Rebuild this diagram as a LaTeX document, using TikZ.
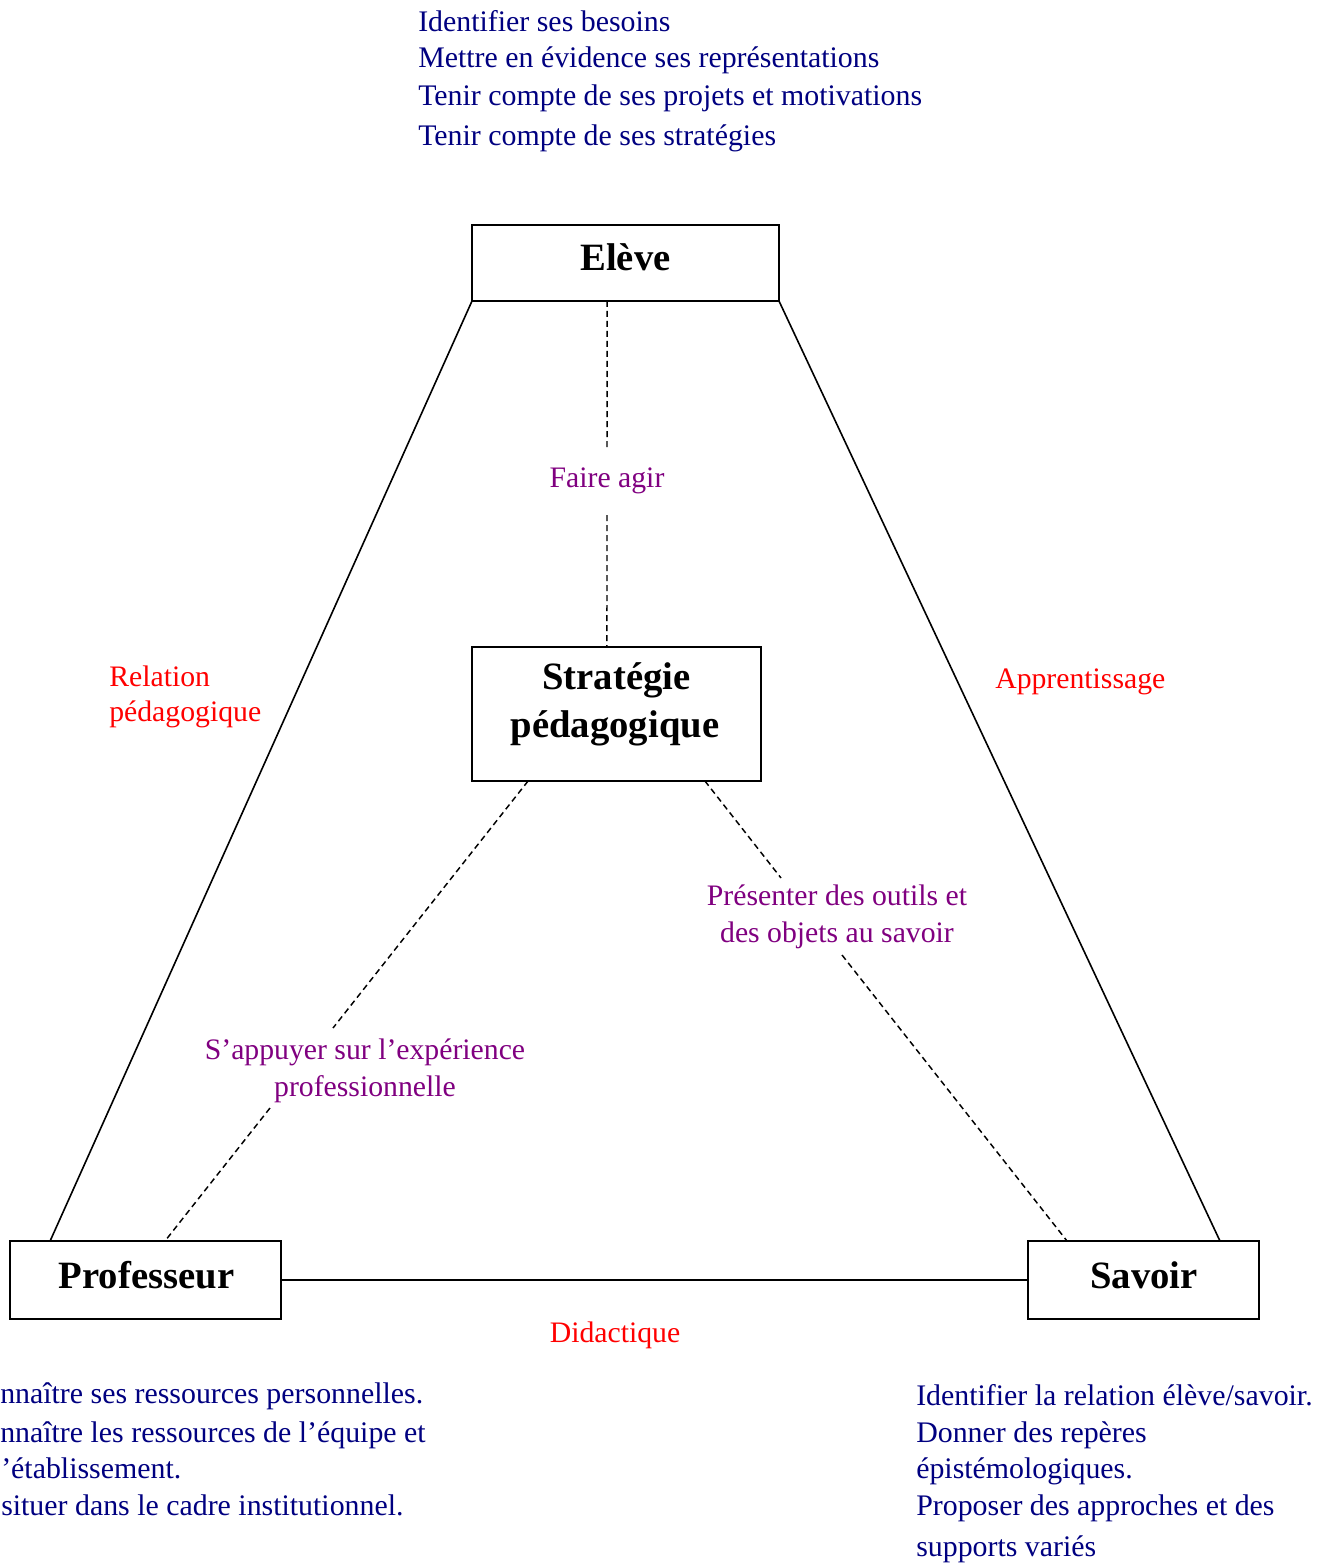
\documentclass[tikz,border=0pt]{standalone}
\usepackage{fontspec}
\setmainfont{Liberation Serif}
\usetikzlibrary{calc}
\definecolor{navytxt}{RGB}{0,0,128}
\definecolor{purpletxt}{RGB}{128,0,128}
\definecolor{redtxt}{RGB}{255,0,0}
\begin{document}
\begin{tikzpicture}[x=0.75pt,y=-0.75pt,
  box/.style={draw,line width=1.5pt,inner sep=0pt,outer sep=0pt},
  boxtext/.style={anchor=base,inner sep=0pt,font=\fontsize{29}{36}\selectfont\bfseries},
  navyline/.style={anchor=base west,inner sep=0pt,text=navytxt,font=\fontsize{22.4}{28}\selectfont},
  purplelabel/.style={anchor=base,inner sep=0pt,text=purpletxt,font=\fontsize{22.3}{28}\selectfont},
  redlabel/.style={inner sep=0pt,text=redtxt,font=\fontsize{22.3}{28}\selectfont},
  side/.style={line width=1.2pt},
  dashline/.style={line width=1.1pt,dash pattern=on 4.5pt off 3pt}
]
\useasboundingbox (0,0) rectangle (1323,1565);

% boxes
\node[box,minimum width=230.25pt,minimum height=57pt] (eleve) at (625.5,263) {};
\node[boxtext] (eleveT) at (625.5,271) {Elève};
\node[box,minimum width=216.75pt,minimum height=100.5pt] (strat) at (616.5,714) {};
\node[boxtext] (strat1) at (616.5,689) {Stratégie};
\node[boxtext] (strat2) at (615,737) {pédagogique};
\node[box,minimum width=203.25pt,minimum height=58.5pt] (prof) at (145.5,1280) {};
\node[boxtext] (profT) at (146.5,1288) {Professeur};
\node[box,minimum width=173.25pt,minimum height=58.5pt] (savoir) at (1143.5,1280) {};
\node[boxtext] (savoirT) at (1144,1288) {Savoir};

% attachment points on boxes
\coordinate (eleveA) at ($(eleve.south west)!0.44!(eleve.south east)$);
\coordinate (stratA) at ($(strat.north west)!0.467!(strat.north east)$);
\coordinate (stratB) at ($(strat.south west)!0.194!(strat.south east)$);
\coordinate (stratC) at ($(strat.south west)!0.806!(strat.south east)$);
\coordinate (profA) at ($(prof.north west)!0.148!(prof.north east)$);
\coordinate (profB) at ($(prof.north west)!0.572!(prof.north east)$);
\coordinate (savoirA) at ($(savoir.north west)!0.169!(savoir.north east)$);
\coordinate (savoirB) at ($(savoir.north west)!0.831!(savoir.north east)$);

% solid sides
\draw[side] (eleve.south west) -- (profA);
\draw[side] (eleve.south east) -- (savoirB);
\draw[side] (prof.east) -- (savoir.west);

% dashed connectors with gaps for labels
\coordinate (g1a) at (607,450);
\coordinate (g1b) at (607,515);
\draw[dashline] (eleveA) -- (g1a);
\draw[dashline] (g1b) -- (stratA);

\coordinate (g2a) at (333,1028);
\coordinate (g2b) at (270,1108);
\draw[dashline] (stratB) -- (g2a);
\draw[dashline] (g2b) -- (profB);

\coordinate (g3a) at (781,878);
\coordinate (g3b) at (842,955);
\draw[dashline] (stratC) -- (g3a);
\draw[dashline] (g3b) -- (savoirA);

% purple labels
\node[purplelabel] (faire) at (607,487) {Faire agir};
\node[purplelabel] (appui1) at (365,1059) {S’appuyer sur l’expérience};
\node[purplelabel] (appui2) at (365,1096) {professionnelle};
\node[purplelabel] (pres1) at (837,905) {Présenter des outils et};
\node[purplelabel] (pres2) at (837,942) {des objets au savoir};

% red labels
\node[redlabel,anchor=base west] (rel1) at (109,686) {Relation};
\node[redlabel,anchor=base west] (rel2) at (109,721) {pédagogique};
\node[redlabel,anchor=base west] (appr) at (995,688) {Apprentissage};
\node[redlabel,anchor=base] (didac) at (615,1342) {Didactique};

% navy text blocks
\node[navyline] (t1) at (418,32) {Identifier ses besoins};
\node[navyline] (t2) at (418,68) {Mettre en évidence ses représentations};
\node[navyline] (t3) at (418,106) {Tenir compte de ses projets et motivations};
\node[navyline] (t4) at (418,146) {Tenir compte de ses stratégies};

\node[navyline] (l1) at (0,1403) {nnaître ses ressources personnelles.};
\node[navyline] (l2) at (0,1442) {nnaître les ressources de l’équipe et};
\node[navyline] (l3) at (1,1478) {’établissement.};
\node[navyline] (l4) at (1,1515) {situer dans le cadre institutionnel.};

\node[navyline] (r1) at (916,1405) {Identifier la relation élève/savoir.};
\node[navyline] (r2) at (916,1442) {Donner des repères};
\node[navyline] (r3) at (916,1478) {épistémologiques.};
\node[navyline] (r4) at (916,1515) {Proposer des approches et des};
\node[navyline] (r5) at (916,1556) {supports variés};
\end{tikzpicture}
\end{document}
